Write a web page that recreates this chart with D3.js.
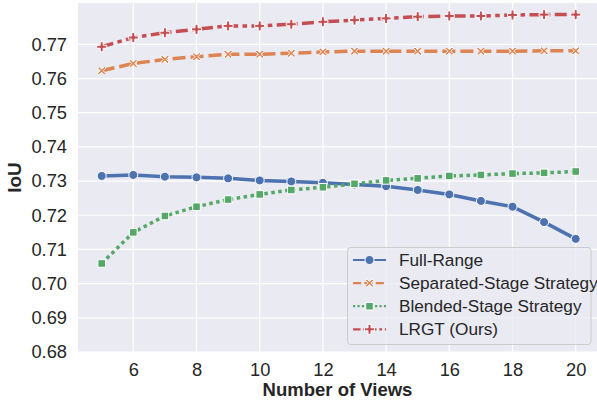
<!DOCTYPE html>
<html>
<head>
<meta charset="utf-8">
<script src="https://cdn.jsdelivr.net/npm/d3@7"></script>
<style>
  html, body { margin: 0; padding: 0; background: #fff; }
  svg { display: block; font-family: "Liberation Sans", Arial, sans-serif; }
</style>
</head>
<body>
<svg id="chart" width="597" height="400"></svg>
<script>
// number of views on the x axis
const views = [5, 6, 7, 8, 9, 10, 11, 12, 13, 14, 15, 16, 17, 18, 19, 20];

// IoU per method
const fullRange = [0.7315, 0.7318, 0.7313, 0.7311, 0.7308, 0.7302, 0.7299, 0.7295, 0.7290, 0.7285, 0.7274, 0.7261, 0.7242, 0.7225, 0.7180, 0.7131];
const separatedStage = [0.7623, 0.7644, 0.7656, 0.7664, 0.7671, 0.7671, 0.7674, 0.7678, 0.7680, 0.7680, 0.7680, 0.7680, 0.7680, 0.7680, 0.7681, 0.7681];
const blendedStage = [0.7059, 0.7150, 0.7198, 0.7225, 0.7246, 0.7261, 0.7274, 0.7282, 0.7292, 0.7302, 0.7308, 0.7315, 0.7318, 0.7322, 0.7324, 0.7328];
const lrgt = [0.7693, 0.7720, 0.7734, 0.7744, 0.7754, 0.7754, 0.7759, 0.7766, 0.7771, 0.7776, 0.7781, 0.7783, 0.7783, 0.7786, 0.7787, 0.7787];

const xTicks = [6, 8, 10, 12, 14, 16, 18, 20];
const yTicks = [0.68, 0.69, 0.70, 0.71, 0.72, 0.73, 0.74, 0.75, 0.76, 0.77];

const series = [
  { name: "Full-Range", values: fullRange, color: "#4C72B0", dash: null, marker: "circle" },
  { name: "Separated-Stage Strategy", values: separatedStage, color: "#DD8452", dash: "13,5", marker: "x" },
  { name: "Blended-Stage Strategy", values: blendedStage, color: "#55A868", dash: "3.5,3.5", marker: "square" },
  { name: "LRGT (Ours)", values: lrgt, color: "#C44E52", dash: "12,4.4,4.5,4.4", marker: "plus" }
];

const svg = d3.select("#chart");
const plotLeft = 78, plotRight = 599.4, plotTop = 3, plotBottom = 352;

const x = d3.scaleLinear().domain([4.25, 20.75]).range([plotLeft, plotRight]);
const y = d3.scaleLinear().domain([0.68, 0.7821]).range([plotBottom, plotTop]);

// background
svg.append("rect")
  .attr("x", plotLeft).attr("y", plotTop)
  .attr("width", plotRight - plotLeft).attr("height", plotBottom - plotTop)
  .attr("fill", "#EAEAF2");

// grid lines
svg.append("g").selectAll("line").data(xTicks).enter().append("line")
  .attr("x1", d => x(d)).attr("x2", d => x(d))
  .attr("y1", plotTop).attr("y2", plotBottom)
  .attr("stroke", "#fff").attr("stroke-width", 1.2);
svg.append("g").selectAll("line").data(yTicks).enter().append("line")
  .attr("x1", plotLeft).attr("x2", plotRight)
  .attr("y1", d => y(d)).attr("y2", d => y(d))
  .attr("stroke", "#fff").attr("stroke-width", 1.2);

// axes (no tick marks, seaborn darkgrid style)
const xAxis = svg.append("g")
  .attr("transform", `translate(0,${plotBottom})`)
  .call(d3.axisBottom(x).tickValues(xTicks).tickSize(0).tickPadding(11).tickFormat(d3.format("d")));
const yAxis = svg.append("g")
  .attr("transform", `translate(${plotLeft},0)`)
  .call(d3.axisLeft(y).tickValues(yTicks).tickSize(0).tickPadding(11).tickFormat(d3.format(".2f")));
[xAxis, yAxis].forEach(a => {
  a.select(".domain").remove();
  a.selectAll("text").attr("font-size", 18.3).attr("fill", "#262626")
    .attr("font-family", "Liberation Sans, Arial, sans-serif");
});

svg.append("text")
  .attr("x", (plotLeft + 597) / 2).attr("y", 396)
  .attr("text-anchor", "middle")
  .attr("font-size", 18.5).attr("font-weight", "bold").attr("fill", "#262626")
  .text("Number of Views");
svg.append("text")
  .attr("transform", `translate(20.5,${(plotTop + plotBottom) / 2}) rotate(-90)`)
  .attr("text-anchor", "middle")
  .attr("font-size", 19).attr("font-weight", "bold").attr("fill", "#262626")
  .text("IoU");

function drawMarker(g, type, color, cx, cy, s) {
  if (type === "circle") {
    g.append("circle").attr("cx", cx).attr("cy", cy).attr("r", 4.5 * s)
      .attr("fill", color).attr("stroke", "#fff").attr("stroke-width", 1);
  } else if (type === "square") {
    const h = 3.8 * s;
    g.append("rect").attr("x", cx - h).attr("y", cy - h).attr("width", 2 * h).attr("height", 2 * h)
      .attr("fill", color).attr("stroke", "#fff").attr("stroke-width", 1);
  } else if (type === "x") {
    const a = 4.2 * s, t = 1.5 * s;
    const p = `M${-a},${-a + t}L${-a + t},${-a}L0,${-t}L${a - t},${-a}L${a},${-a + t}L${t},0L${a},${a - t}L${a - t},${a}L0,${t}L${-a + t},${a}L${-a},${a - t}L${-t},0Z`;
    g.append("path").attr("d", p).attr("transform", `translate(${cx},${cy})`)
      .attr("fill", color).attr("stroke", "#fff").attr("stroke-width", 1);
  } else if (type === "plus") {
    const a = 5 * s, t = 1.5 * s;
    const p = `M${-t},${-a}H${t}V${-t}H${a}V${t}H${t}V${a}H${-t}V${t}H${-a}V${-t}H${-t}Z`;
    g.append("path").attr("d", p).attr("transform", `translate(${cx},${cy})`)
      .attr("fill", color).attr("stroke", "#fff").attr("stroke-width", 1);
  }
}

const line = d3.line().x(d => x(d[0])).y(d => y(d[1]));
const plot = svg.append("g");
series.forEach(s => {
  const pts = views.map((v, i) => [v, s.values[i]]);
  plot.append("path")
    .datum(pts)
    .attr("d", line)
    .attr("fill", "none")
    .attr("stroke", s.color)
    .attr("stroke-width", 3.5)
    .attr("stroke-dasharray", s.dash);
  const mg = plot.append("g");
  pts.forEach(p => drawMarker(mg, s.marker, s.color, x(p[0]), y(p[1]), 1));
});

// legend
const lg = svg.append("g");
lg.append("rect")
  .attr("x", 347.5).attr("y", 247.5).attr("width", 243.5).attr("height", 97)
  .attr("rx", 3)
  .attr("fill", "#EAEAF2").attr("fill-opacity", 0.8)
  .attr("stroke", "#cccccc").attr("stroke-width", 1);
series.forEach((s, i) => {
  const ly = 260 + i * 23.1;
  lg.append("line")
    .attr("x1", 353).attr("x2", 386).attr("y1", ly).attr("y2", ly)
    .attr("stroke", s.color).attr("stroke-width", 2.2)
    .attr("stroke-dasharray", s.dash ? s.dash.split(",").map(v => v * 0.63).join(",") : null);
  drawMarker(lg, s.marker, s.color, 369.5, ly, 1);
  lg.append("text")
    .attr("x", 399).attr("y", ly).attr("dy", "0.35em")
    .attr("font-size", 17.2).attr("fill", "#262626")
    .text(s.name);
});
</script>
</body>
</html>
